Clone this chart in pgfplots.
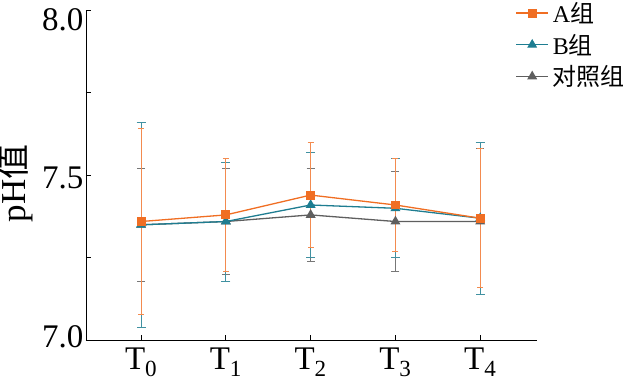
\documentclass[border=0pt]{standalone}
\usepackage{pgfplots}
\pgfplotsset{compat=1.18}
\usepackage{fontspec}
\setmainfont{Liberation Serif}
\newfontfamily\cjk{Noto Sans CJK SC}
\definecolor{cA}{RGB}{240,110,35}
\definecolor{cB}{RGB}{30,125,145}
\definecolor{cC}{RGB}{95,95,95}
\begin{document}
\begin{tikzpicture}
\useasboundingbox (-86pt,-38.5pt) rectangle (542pt,340.5pt);
\begin{axis}[
  scale only axis, width=451pt, height=330.5pt,
  xmin=-0.65, xmax=4.67, ymin=7, ymax=8,
  axis lines=left,
  axis line style={-, black, line width=0.9pt},
  tick align=inside,
  major tick length=5pt, minor tick length=5pt,
  tick style={black, line width=0.8pt},
  ytick={7,7.5,8}, minor ytick={7.25,7.75},
  yticklabels={\raisebox{4pt}[\height][\depth]{7.0},\raisebox{-3pt}[\height][\depth]{7.5},\raisebox{-10pt}[\height][\depth]{8.0}},
  yticklabel style={xshift=1pt},
  xtick={0,1,2,3,4},
  xticklabels={T\textsubscript{0},T\textsubscript{1},T\textsubscript{2},T\textsubscript{3},T\textsubscript{4}},
  xticklabel style={yshift=-4pt},
  tick label style={font=\fontsize{33}{33}\selectfont},
  ylabel={pH{\cjk 值}},
  ylabel style={font=\fontsize{35}{35}\selectfont, xshift=-8pt, yshift=2pt},
  legend style={at={(0.952,1.03)}, anchor=north west, draw=none, fill=none,
    font=\fontsize{24}{24}\selectfont, row sep=6pt, inner sep=0pt,
    nodes={inner xsep=4pt}},
  legend cell align=left,
  reverse legend,
  legend image code/.code={\draw[mark repeat=2,mark phase=2,#1] plot coordinates {(0pt,0pt) (16pt,0pt) (32pt,0pt)};},
  clip=false,
]
\addplot[cC, line width=1.3pt, mark=triangle*, mark size=4.5pt, mark options={fill=cC, solid},
  error bars/.cd, y dir=both, y explicit,
  error bar style={line width=1pt, cC!85},
  error mark options={rotate=90, mark size=4pt, line width=1pt, cC!85}]
  table[x=x, y=y, y error=e] {
x y e
0 7.35 0.17
1 7.36 0.16
2 7.38 0.14
3 7.36 0.15
4 7.36 0.22
};
\addlegendentry{{\cjk 对照组}}
\addplot[cB, line width=1.3pt, mark=triangle*, mark size=4.5pt, mark options={fill=cB, solid},
  error bars/.cd, y dir=both, y explicit,
  error bar style={line width=1pt, cB!85},
  error mark options={rotate=90, mark size=4.5pt, line width=1pt, cB!85}]
  table[x=x, y=y, y error=e] {
x y e
0 7.35 0.31
1 7.36 0.18
2 7.41 0.16
3 7.40 0.15
4 7.37 0.23
};
\addlegendentry{B{\cjk 组}}
\addplot[cA, line width=1.3pt, mark=square*, mark size=3.8pt, mark options={fill=cA, solid},
  error bars/.cd, y dir=both, y explicit,
  error bar style={line width=1pt, cA!80},
  error mark options={rotate=90, mark size=3pt, line width=1pt, cA!80}]
  table[x=x, y=y, y error=e] {
x y e
0 7.36 0.28
1 7.38 0.17
2 7.44 0.16
3 7.41 0.14
4 7.37 0.21
};
\addlegendentry{A{\cjk 组}}
\end{axis}
\end{tikzpicture}
\end{document}
